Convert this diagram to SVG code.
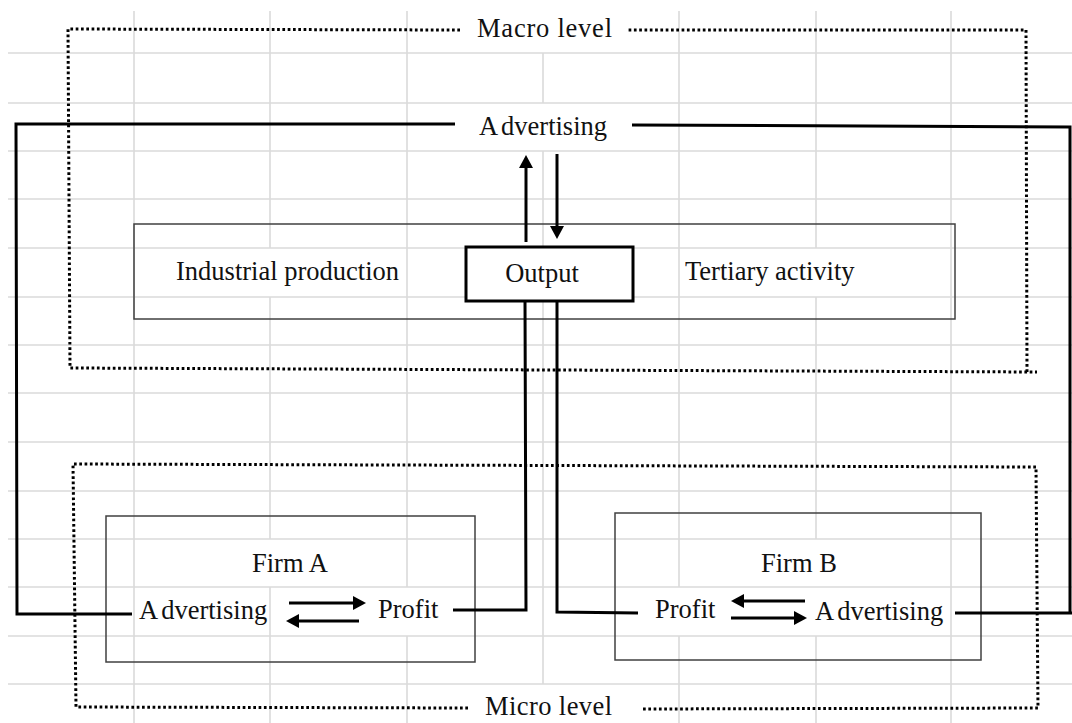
<svg xmlns="http://www.w3.org/2000/svg" width="1072" height="723" viewBox="0 0 1072 723">
<style>
.grid{stroke:#dadada;stroke-width:1.6;fill:none}
.dot{stroke:#000;stroke-width:3;stroke-dasharray:2.7 2.6;fill:none}
.box{stroke:#404040;stroke-width:1.5;fill:none}
.conn{stroke:#000;stroke-width:3;fill:none}
.t{font-family:"Liberation Serif","Times New Roman",serif;font-size:26.5px;fill:#111}
</style>
<defs>
<marker id="ah" markerUnits="userSpaceOnUse" markerWidth="14" markerHeight="14" refX="1" refY="7" orient="auto">
<path d="M0,0 L13,7 L0,14 z" fill="#000"/>
</marker>
</defs>
<rect width="1072" height="723" fill="#fff"/>
<g id="grid" class="grid">
<path d="M8,53H1072M8,103H1072M8,151H1072M8,199H1072M8,248H1072M8,297H1072M8,345H1072M8,393H1072M8,442H1072M8,491H1072M8,539H1072M8,587H1072M8,636H1072M8,684H1072"/>
<path d="M134,11V723"/>
<path d="M270,11V248M270,297V539M270,587V723"/>
<path d="M407,11V587M407,636V723"/>
<path d="M543,53V103M543,151V248M543,297V684"/>
<path d="M679,11V587M679,636V723"/>
<path d="M816,11V248M816,297V539M816,636V723"/>
<path d="M951,11V723"/>
</g>
<g id="macro-level">
<path class="dot" d="M460,30 L68,29 L70,368 L1037,372 M1027,372 L1026,30 L627,30"/>
<text class="t" x="544.5" y="37" text-anchor="middle" textLength="135" lengthAdjust="spacing">Macro level</text>
</g>
<g id="micro-level">
<path class="dot" d="M468,708 L76,707 L73,464 L1036,467 L1038,708 L642,709"/>
<text class="t" x="548.5" y="715" text-anchor="middle" textLength="127" lengthAdjust="spacing">Micro level</text>
</g>
<g id="sectors">
<rect class="box" x="134" y="224" width="821" height="95"/>
<text class="t" x="176" y="280">Industrial production</text>
<text class="t" x="685" y="280">Tertiary activity</text>
</g>
<g id="firm-a">
<rect class="box" x="106" y="516" width="369" height="146"/>
<text class="t" x="252" y="572">Firm A</text>
<text class="t" x="139" y="619">A<tspan dx="3">dvertising</tspan></text>
<text class="t" x="378" y="618">Profit</text>
</g>
<g id="firm-b">
<rect class="box" x="615" y="513" width="366" height="147"/>
<text class="t" x="761" y="572">Firm B</text>
<text class="t" x="655" y="618">Profit</text>
<text class="t" x="815" y="620">A<tspan dx="3">dvertising</tspan></text>
</g>
<g id="output">
<rect x="466" y="247" width="167" height="54" fill="#fff" stroke="#000" stroke-width="3"/>
<text class="t" x="542" y="282" text-anchor="middle">Output</text>
</g>
<g id="advertising-macro">
<text class="t" x="543" y="135" text-anchor="middle">A<tspan dx="3">dvertising</tspan></text>
</g>
<g id="connectors" class="conn">
<path d="M455,124 L16,124 L17,614 L132,614"/>
<path d="M632,125 L1070,127 L1070,613 M955,613 L1072,613"/>
<path d="M453,610 L526,610 L525,301"/>
<path d="M557,301 L557,612 L638,613"/>
<path d="M526,242 L526,167" marker-end="url(#ah)"/>
<path d="M557,154 L557,227" marker-end="url(#ah)"/>
<path d="M289,603 L354,603" marker-end="url(#ah)"/>
<path d="M359,621 L298,621" marker-end="url(#ah)"/>
<path d="M805,601 L743,601" marker-end="url(#ah)"/>
<path d="M731,618 L795,618" marker-end="url(#ah)"/>
</g>
</svg>
